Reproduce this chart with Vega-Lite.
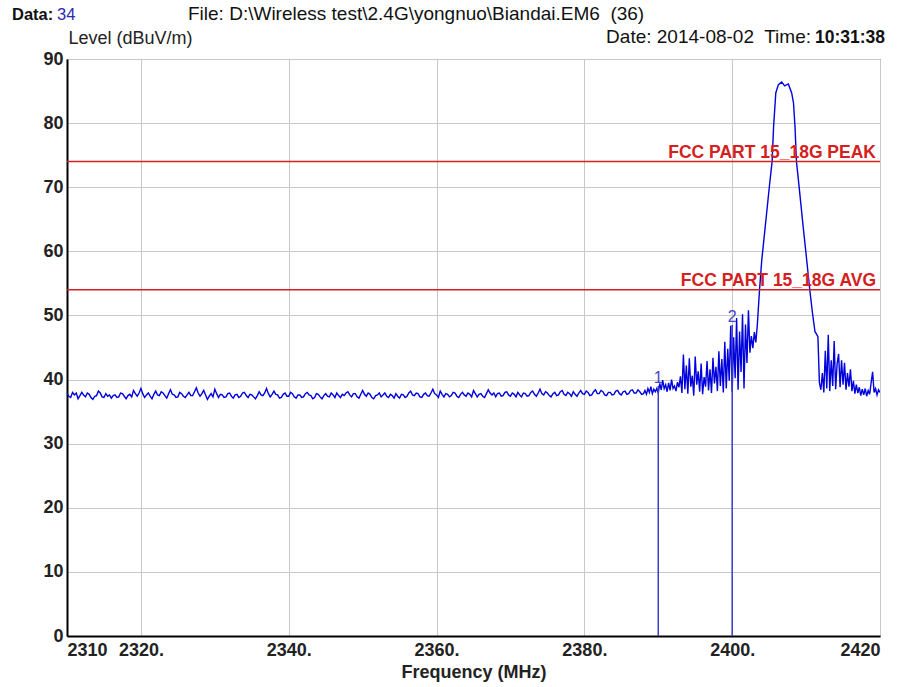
{
  "$schema": "https://vega.github.io/schema/vega-lite/v6.json",
  "autosize": {"type": "none"},
  "padding": {"left": 67, "top": 59, "right": 21, "bottom": 51},
  "width": 813,
  "height": 577,
  "background": "white",
  "config": {
    "font": "Liberation Sans",
    "view": {"stroke": "#222", "strokeWidth": 1}
  },
  "datasets": {
    "spectrum": [
      {"f":2310,"v":37.8},{"f":2310.25,"v":37.4},{"f":2310.5,"v":37.2},{"f":2310.75,"v":38.0},{"f":2311,"v":37.6},{"f":2311.25,"v":37.9},{"f":2311.5,"v":37.0},{"f":2311.75,"v":37.5},
      {"f":2312,"v":38.0},{"f":2312.25,"v":37.6},{"f":2312.5,"v":37.3},{"f":2312.75,"v":37.9},{"f":2313,"v":37.7},{"f":2313.25,"v":37.2},{"f":2313.5,"v":36.9},{"f":2313.75,"v":37.4},
      {"f":2314,"v":37.5},{"f":2314.25,"v":38.2},{"f":2314.5,"v":37.9},{"f":2314.75,"v":37.3},{"f":2315,"v":37.2},{"f":2315.25,"v":37.8},{"f":2315.5,"v":37.4},{"f":2315.75,"v":37.6},
      {"f":2316,"v":37.1},{"f":2316.25,"v":37.5},{"f":2316.5,"v":37.6},{"f":2316.75,"v":37.2},{"f":2317,"v":37.3},{"f":2317.25,"v":37.9},{"f":2317.5,"v":37.8},{"f":2317.75,"v":37.4},
      {"f":2318,"v":37.0},{"f":2318.25,"v":37.5},{"f":2318.5,"v":37.7},{"f":2318.75,"v":37.3},{"f":2319,"v":38.3},{"f":2319.25,"v":37.8},{"f":2319.5,"v":37.4},{"f":2319.75,"v":37.9},
      {"f":2320,"v":38.6},{"f":2320.25,"v":37.8},{"f":2320.5,"v":37.2},{"f":2320.75,"v":37.6},{"f":2321,"v":37.9},{"f":2321.25,"v":37.4},{"f":2321.5,"v":37.0},{"f":2321.75,"v":37.7},
      {"f":2322,"v":38.2},{"f":2322.25,"v":37.6},{"f":2322.5,"v":37.5},{"f":2322.75,"v":38.1},{"f":2323,"v":37.9},{"f":2323.25,"v":37.5},{"f":2323.5,"v":37.1},{"f":2323.75,"v":37.8},
      {"f":2324,"v":38.4},{"f":2324.25,"v":37.7},{"f":2324.5,"v":37.6},{"f":2324.75,"v":37.2},{"f":2325,"v":37.3},{"f":2325.25,"v":38.0},{"f":2325.5,"v":37.8},{"f":2325.75,"v":37.4},
      {"f":2326,"v":37.2},{"f":2326.25,"v":37.6},{"f":2326.5,"v":38.0},{"f":2326.75,"v":37.5},{"f":2327,"v":37.5},{"f":2327.25,"v":38.1},{"f":2327.5,"v":38.7},{"f":2327.75,"v":37.9},
      {"f":2328,"v":37.4},{"f":2328.25,"v":37.8},{"f":2328.5,"v":38.3},{"f":2328.75,"v":37.6},{"f":2329,"v":36.9},{"f":2329.25,"v":37.4},{"f":2329.5,"v":37.8},{"f":2329.75,"v":37.3},
      {"f":2330,"v":38.5},{"f":2330.25,"v":37.8},{"f":2330.5,"v":37.2},{"f":2330.75,"v":37.7},{"f":2331,"v":37.6},{"f":2331.25,"v":37.2},{"f":2331.5,"v":37.3},{"f":2331.75,"v":37.8},
      {"f":2332,"v":37.9},{"f":2332.25,"v":37.4},{"f":2332.5,"v":37.1},{"f":2332.75,"v":37.6},{"f":2333,"v":37.7},{"f":2333.25,"v":37.2},{"f":2333.5,"v":37.4},{"f":2333.75,"v":37.9},
      {"f":2334,"v":38.0},{"f":2334.25,"v":37.5},{"f":2334.5,"v":37.2},{"f":2334.75,"v":37.7},{"f":2335,"v":37.6},{"f":2335.25,"v":37.3},{"f":2335.5,"v":37.0},{"f":2335.75,"v":37.5},
      {"f":2336,"v":38.1},{"f":2336.25,"v":37.6},{"f":2336.5,"v":37.5},{"f":2336.75,"v":37.9},{"f":2337,"v":38.6},{"f":2337.25,"v":37.8},{"f":2337.5,"v":37.3},{"f":2337.75,"v":37.7},
      {"f":2338,"v":38.2},{"f":2338.25,"v":37.7},{"f":2338.5,"v":37.6},{"f":2338.75,"v":37.1},{"f":2339,"v":37.2},{"f":2339.25,"v":37.7},{"f":2339.5,"v":37.9},{"f":2339.75,"v":37.4},
      {"f":2340,"v":37.4},{"f":2340.25,"v":38.0},{"f":2340.5,"v":37.8},{"f":2340.75,"v":37.3},{"f":2341,"v":37.1},{"f":2341.25,"v":37.6},{"f":2341.5,"v":37.6},{"f":2341.75,"v":37.2},
      {"f":2342,"v":37.3},{"f":2342.25,"v":37.8},{"f":2342.5,"v":38.0},{"f":2342.75,"v":37.6},{"f":2343,"v":37.5},{"f":2343.25,"v":37.0},{"f":2343.5,"v":37.2},{"f":2343.75,"v":37.8},
      {"f":2344,"v":37.7},{"f":2344.25,"v":37.3},{"f":2344.5,"v":37.0},{"f":2344.75,"v":37.5},{"f":2345,"v":37.8},{"f":2345.25,"v":37.4},{"f":2345.5,"v":37.3},{"f":2345.75,"v":37.9},
      {"f":2346,"v":37.6},{"f":2346.25,"v":37.2},{"f":2346.5,"v":37.9},{"f":2346.75,"v":37.5},{"f":2347,"v":37.2},{"f":2347.25,"v":37.7},{"f":2347.5,"v":37.5},{"f":2347.75,"v":37.9},
      {"f":2348,"v":38.1},{"f":2348.25,"v":37.6},{"f":2348.5,"v":37.3},{"f":2348.75,"v":37.8},{"f":2349,"v":37.8},{"f":2349.25,"v":37.3},{"f":2349.5,"v":37.1},{"f":2349.75,"v":37.7},
      {"f":2350,"v":38.3},{"f":2350.25,"v":37.7},{"f":2350.5,"v":37.4},{"f":2350.75,"v":37.9},{"f":2351,"v":37.7},{"f":2351.25,"v":37.2},{"f":2351.5,"v":37.0},{"f":2351.75,"v":37.5},
      {"f":2352,"v":37.6},{"f":2352.25,"v":37.9},{"f":2352.5,"v":37.3},{"f":2352.75,"v":37.6},{"f":2353,"v":37.9},{"f":2353.25,"v":37.4},{"f":2353.5,"v":37.2},{"f":2353.75,"v":37.7},
      {"f":2354,"v":37.5},{"f":2354.25,"v":37.1},{"f":2354.5,"v":37.8},{"f":2354.75,"v":37.4},{"f":2355,"v":37.1},{"f":2355.25,"v":37.7},{"f":2355.5,"v":37.6},{"f":2355.75,"v":37.2},
      {"f":2356,"v":37.4},{"f":2356.25,"v":37.9},{"f":2356.5,"v":38.2},{"f":2356.75,"v":37.6},{"f":2357,"v":37.5},{"f":2357.25,"v":37.9},{"f":2357.5,"v":37.8},{"f":2357.75,"v":37.3},
      {"f":2358,"v":37.2},{"f":2358.25,"v":37.7},{"f":2358.5,"v":37.9},{"f":2358.75,"v":37.5},{"f":2359,"v":37.4},{"f":2359.25,"v":37.9},{"f":2359.5,"v":38.5},{"f":2359.75,"v":37.8},
      {"f":2360,"v":37.6},{"f":2360.25,"v":37.2},{"f":2360.5,"v":38.2},{"f":2360.75,"v":37.7},{"f":2361,"v":37.3},{"f":2361.25,"v":37.8},{"f":2361.5,"v":37.7},{"f":2361.75,"v":37.3},
      {"f":2362,"v":37.5},{"f":2362.25,"v":38.0},{"f":2362.5,"v":37.9},{"f":2362.75,"v":37.4},{"f":2363,"v":37.2},{"f":2363.25,"v":37.7},{"f":2363.5,"v":38.0},{"f":2363.75,"v":37.6},
      {"f":2364,"v":37.4},{"f":2364.25,"v":37.9},{"f":2364.5,"v":37.7},{"f":2364.75,"v":37.3},{"f":2365,"v":38.3},{"f":2365.25,"v":37.8},{"f":2365.5,"v":37.3},{"f":2365.75,"v":37.7},
      {"f":2366,"v":37.8},{"f":2366.25,"v":37.4},{"f":2366.5,"v":37.2},{"f":2366.75,"v":37.8},{"f":2367,"v":38.4},{"f":2367.25,"v":37.9},{"f":2367.5,"v":37.6},{"f":2367.75,"v":37.9},
      {"f":2368,"v":37.3},{"f":2368.25,"v":37.8},{"f":2368.5,"v":37.9},{"f":2368.75,"v":37.4},{"f":2369,"v":37.5},{"f":2369.25,"v":38.0},{"f":2369.5,"v":38.1},{"f":2369.75,"v":37.6},
      {"f":2370,"v":37.4},{"f":2370.25,"v":37.9},{"f":2370.5,"v":37.7},{"f":2370.75,"v":37.3},{"f":2371,"v":38.0},{"f":2371.25,"v":37.6},{"f":2371.5,"v":37.3},{"f":2371.75,"v":37.9},
      {"f":2372,"v":37.8},{"f":2372.25,"v":37.4},{"f":2372.5,"v":37.5},{"f":2372.75,"v":38.0},{"f":2373,"v":38.2},{"f":2373.25,"v":37.7},{"f":2373.5,"v":37.4},{"f":2373.75,"v":37.9},
      {"f":2374,"v":38.5},{"f":2374.25,"v":37.8},{"f":2374.5,"v":37.6},{"f":2374.75,"v":38.1},{"f":2375,"v":37.9},{"f":2375.25,"v":37.5},{"f":2375.5,"v":37.3},{"f":2375.75,"v":37.8},
      {"f":2376,"v":38.0},{"f":2376.25,"v":37.5},{"f":2376.5,"v":37.6},{"f":2376.75,"v":38.1},{"f":2377,"v":38.3},{"f":2377.25,"v":37.7},{"f":2377.5,"v":37.5},{"f":2377.75,"v":38.0},
      {"f":2378,"v":37.8},{"f":2378.25,"v":37.4},{"f":2378.5,"v":38.1},{"f":2378.75,"v":37.7},{"f":2379,"v":37.4},{"f":2379.25,"v":37.9},{"f":2379.5,"v":38.3},{"f":2379.75,"v":37.8},
      {"f":2380,"v":37.7},{"f":2380.25,"v":38.2},{"f":2380.5,"v":38.0},{"f":2380.75,"v":37.5},{"f":2381,"v":37.6},{"f":2381.25,"v":38.1},{"f":2381.5,"v":38.4},{"f":2381.75,"v":37.8},
      {"f":2382,"v":37.8},{"f":2382.25,"v":38.3},{"f":2382.5,"v":38.1},{"f":2382.75,"v":37.6},{"f":2383,"v":37.5},{"f":2383.25,"v":38.0},{"f":2383.5,"v":38.0},{"f":2383.75,"v":37.6},
      {"f":2384,"v":37.7},{"f":2384.25,"v":38.2},{"f":2384.5,"v":38.3},{"f":2384.75,"v":37.8},{"f":2385,"v":37.6},{"f":2385.25,"v":38.1},{"f":2385.5,"v":38.2},{"f":2385.75,"v":37.7},
      {"f":2386,"v":37.8},{"f":2386.25,"v":38.3},{"f":2386.5,"v":38.4},{"f":2386.75,"v":37.9},{"f":2387,"v":37.9},{"f":2387.25,"v":38.4},{"f":2387.5,"v":38.1},{"f":2387.75,"v":37.7},
      {"f":2388,"v":37.8},
      {"f":2388.2,"v":38.3},{"f":2388.4,"v":37.7},{"f":2388.6,"v":38.6},{"f":2388.8,"v":38.0},{"f":2389.0,"v":38.9},{"f":2389.2,"v":37.8},{"f":2389.4,"v":38.5},{"f":2389.6,"v":38.1},{"f":2389.8,"v":38.6},{"f":2390.0,"v":37.9},
      {"f":2390.2,"v":39.4},{"f":2390.4,"v":38.4},{"f":2390.6,"v":39.9},{"f":2390.8,"v":38.6},{"f":2391.0,"v":39.2},{"f":2391.2,"v":38.1},{"f":2391.4,"v":39.5},{"f":2391.6,"v":38.3},{"f":2391.8,"v":40.0},{"f":2392.0,"v":38.6},
      {"f":2392.2,"v":39.0},{"f":2392.4,"v":38.2},{"f":2392.6,"v":39.6},{"f":2392.8,"v":38.8},{"f":2393.0,"v":40.5},{"f":2393.2,"v":37.9},{"f":2393.4,"v":43.9},{"f":2393.6,"v":38.5},{"f":2393.8,"v":42.2},{"f":2394.0,"v":37.8},
      {"f":2394.2,"v":43.3},{"f":2394.4,"v":38.9},{"f":2394.6,"v":40.6},{"f":2394.8,"v":37.5},{"f":2395.0,"v":43.6},{"f":2395.2,"v":39.2},{"f":2395.4,"v":41.3},{"f":2395.6,"v":38.1},{"f":2395.8,"v":42.5},{"f":2396.0,"v":37.7},
      {"f":2396.2,"v":40.4},{"f":2396.4,"v":38.9},{"f":2396.6,"v":42.9},{"f":2396.8,"v":38.3},{"f":2397.0,"v":41.6},{"f":2397.2,"v":37.9},{"f":2397.4,"v":43.4},{"f":2397.6,"v":39.4},{"f":2397.8,"v":42.0},{"f":2398.0,"v":38.2},
      {"f":2398.2,"v":44.4},{"f":2398.4,"v":39.0},{"f":2398.6,"v":43.2},{"f":2398.8,"v":38.0},{"f":2399.0,"v":45.9},{"f":2399.2,"v":38.6},{"f":2399.4,"v":44.8},{"f":2399.6,"v":39.8},{"f":2399.8,"v":48.4},{"f":2400.0,"v":38.1},
      {"f":2400.2,"v":46.6},{"f":2400.4,"v":40.2},{"f":2400.6,"v":49.6},{"f":2400.8,"v":38.4},{"f":2401.0,"v":47.5},{"f":2401.2,"v":41.2},{"f":2401.4,"v":50.2},{"f":2401.6,"v":38.6},{"f":2401.8,"v":48.6},{"f":2402.0,"v":42.6},
      {"f":2402.2,"v":50.8},{"f":2402.4,"v":44.2},{"f":2402.6,"v":46.8},{"f":2402.8,"v":44.9},{"f":2403.0,"v":47.4},{"f":2403.2,"v":45.8},
      {"f":2403.4,"v":48.5},{"f":2403.7,"v":54.0},{"f":2404.0,"v":58.6},{"f":2404.35,"v":62.5},{"f":2404.7,"v":66.4},{"f":2405.05,"v":70.3},{"f":2405.4,"v":74.0},{"f":2405.6,"v":79.4},{"f":2405.9,"v":84.7},{"f":2406.25,"v":86.0},
      {"f":2406.7,"v":86.4},{"f":2407.1,"v":85.8},{"f":2407.6,"v":86.1},{"f":2408.05,"v":84.7},{"f":2408.3,"v":83.1},{"f":2408.5,"v":79.4},{"f":2408.7,"v":74.0},{"f":2409.15,"v":69.0},{"f":2409.6,"v":63.9},{"f":2410.05,"v":59.0},
      {"f":2410.5,"v":54.0},{"f":2410.85,"v":50.5},{"f":2411.2,"v":47.5},{"f":2411.6,"v":46.7},
      {"f":2411.8,"v":39.5},{"f":2412.0,"v":38.4},{"f":2412.2,"v":41.0},{"f":2412.4,"v":38.0},{"f":2412.6,"v":44.5},{"f":2412.8,"v":38.6},{"f":2413.0,"v":47.0},{"f":2413.2,"v":38.2},{"f":2413.4,"v":43.0},{"f":2413.6,"v":39.0},
      {"f":2413.8,"v":46.0},{"f":2414.0,"v":38.5},{"f":2414.2,"v":42.5},{"f":2414.4,"v":44.0},{"f":2414.6,"v":38.8},{"f":2414.8,"v":43.0},{"f":2415.0,"v":39.2},{"f":2415.2,"v":42.6},{"f":2415.4,"v":38.4},{"f":2415.6,"v":41.0},
      {"f":2415.8,"v":38.9},{"f":2416.0,"v":41.6},{"f":2416.2,"v":38.2},{"f":2416.4,"v":39.8},{"f":2416.6,"v":37.8},{"f":2416.8,"v":39.2},{"f":2417.0,"v":37.9},{"f":2417.2,"v":38.8},{"f":2417.4,"v":37.5},{"f":2417.6,"v":38.5},
      {"f":2417.8,"v":37.6},{"f":2418.0,"v":38.6},{"f":2418.2,"v":37.4},{"f":2418.4,"v":38.3},{"f":2418.6,"v":37.7},{"f":2418.8,"v":39.5},{"f":2419.0,"v":41.2},{"f":2419.2,"v":38.0},{"f":2419.4,"v":38.6},{"f":2419.6,"v":37.6},
      {"f":2419.8,"v":38.4},{"f":2420.0,"v":38.0}
    ],
    "limits": [
      {"name": "FCC PART 15_18G PEAK", "v": 74},
      {"name": "FCC PART 15_18G AVG", "v": 54}
    ],
    "markers": [
      {"m": "1", "f": 2390, "v": 39.0, "b": 0},
      {"m": "2", "f": 2400, "v": 48.5, "b": 0}
    ],
    "header": [
      {"f": 2310, "v": 90}
    ]
  },
  "layer": [
    {
      "data": {"name": "spectrum"},
      "mark": {"type": "line", "color": "#0000dd", "strokeWidth": 1.4, "clip": true},
      "encoding": {
        "x": {
          "field": "f", "type": "quantitative",
          "scale": {"domain": [2310, 2420], "nice": false, "zero": false},
          "axis": {
            "values": [2310, 2320, 2340, 2360, 2380, 2400, 2420],
            "format": "d",
            "labelExpr": "datum.value == 2310 || datum.value == 2420 ? datum.label : datum.label + '.'",
            "labelFlush": true,
            "title": "Frequency (MHz)",
            "grid": true,
            "gridColor": "#c8c8c8",
            "ticks": false,
            "domainColor": "#000",
            "domainWidth": 2,
            "labelPadding": 5,
            "labelFontSize": 18,
            "labelFontWeight": "bold",
            "labelColor": "#222",
            "titleFontSize": 18,
            "titleFontWeight": "bold",
            "titleColor": "#222",
            "titlePadding": 4
          }
        },
        "y": {
          "field": "v", "type": "quantitative",
          "scale": {"domain": [0, 90], "nice": false},
          "axis": {
            "values": [0, 10, 20, 30, 40, 50, 60, 70, 80, 90],
            "title": "Level (dBuV/m)",
            "titleAngle": 0,
            "titleX": 1,
            "titleY": -16,
            "titleAlign": "left",
            "titleBaseline": "alphabetic",
            "titleFontSize": 18,
            "titleFontWeight": "normal",
            "titleColor": "#222",
            "grid": true,
            "gridColor": "#c8c8c8",
            "ticks": false,
            "domainColor": "#000",
            "domainWidth": 2,
            "labelPadding": 4,
            "labelFontSize": 18,
            "labelFontWeight": "bold",
            "labelColor": "#222"
          }
        }
      }
    },
    {
      "data": {"name": "limits"},
      "mark": {"type": "rule", "color": "#d42020", "strokeWidth": 1.5},
      "encoding": {
        "y": {"field": "v", "type": "quantitative"}
      }
    },
    {
      "data": {"name": "limits"},
      "mark": {"type": "text", "color": "#d42020", "fontSize": 17.5, "fontWeight": "bold", "align": "right", "baseline": "alphabetic", "dx": -4, "dy": -4, "x": {"expr": "width"}},
      "encoding": {
        "y": {"field": "v", "type": "quantitative"},
        "text": {"field": "name", "type": "nominal"}
      }
    },
    {
      "data": {"name": "markers"},
      "mark": {"type": "rule", "color": "#3a3acc", "strokeWidth": 1.5},
      "encoding": {
        "x": {"field": "f", "type": "quantitative"},
        "y": {"field": "v", "type": "quantitative"},
        "y2": {"field": "b"}
      }
    },
    {
      "data": {"name": "markers"},
      "mark": {"type": "text", "color": "#4444cc", "fontSize": 16, "align": "center", "baseline": "alphabetic", "dy": -3},
      "encoding": {
        "x": {"field": "f", "type": "quantitative"},
        "y": {"field": "v", "type": "quantitative"},
        "text": {"field": "m", "type": "nominal"}
      }
    },
    {
      "data": {"name": "header"},
      "mark": {"type": "text", "color": "#111", "fontSize": 16.5, "fontWeight": "bold", "align": "left", "baseline": "alphabetic", "dx": -55, "dy": -39, "text": "Data:"},
      "encoding": {
        "x": {"field": "f", "type": "quantitative"},
        "y": {"field": "v", "type": "quantitative"}
      }
    },
    {
      "data": {"name": "header"},
      "mark": {"type": "text", "color": "#2b2bb0", "fontSize": 16.5, "align": "left", "baseline": "alphabetic", "dx": -10, "dy": -39, "text": "34"},
      "encoding": {
        "x": {"field": "f", "type": "quantitative"},
        "y": {"field": "v", "type": "quantitative"}
      }
    },
    {
      "data": {"name": "header"},
      "mark": {"type": "text", "color": "#111", "fontSize": 19, "align": "left", "baseline": "alphabetic", "dx": 121, "dy": -39, "text": "File: D:\\Wireless test\\2.4G\\yongnuo\\Biandai.EM6\u00a0 (36)"},
      "encoding": {
        "x": {"field": "f", "type": "quantitative"},
        "y": {"field": "v", "type": "quantitative"}
      }
    },
    {
      "data": {"name": "header"},
      "mark": {"type": "text", "color": "#111", "fontSize": 19, "align": "right", "baseline": "alphabetic", "dx": 744, "dy": -16, "text": "Date: 2014-08-02\u00a0 Time:"},
      "encoding": {
        "x": {"field": "f", "type": "quantitative"},
        "y": {"field": "v", "type": "quantitative"}
      }
    },
    {
      "data": {"name": "header"},
      "mark": {"type": "text", "color": "#111", "fontSize": 17.5, "fontWeight": "bold", "align": "right", "baseline": "alphabetic", "dx": 818, "dy": -16, "text": "10:31:38"},
      "encoding": {
        "x": {"field": "f", "type": "quantitative"},
        "y": {"field": "v", "type": "quantitative"}
      }
    }
  ]
}
